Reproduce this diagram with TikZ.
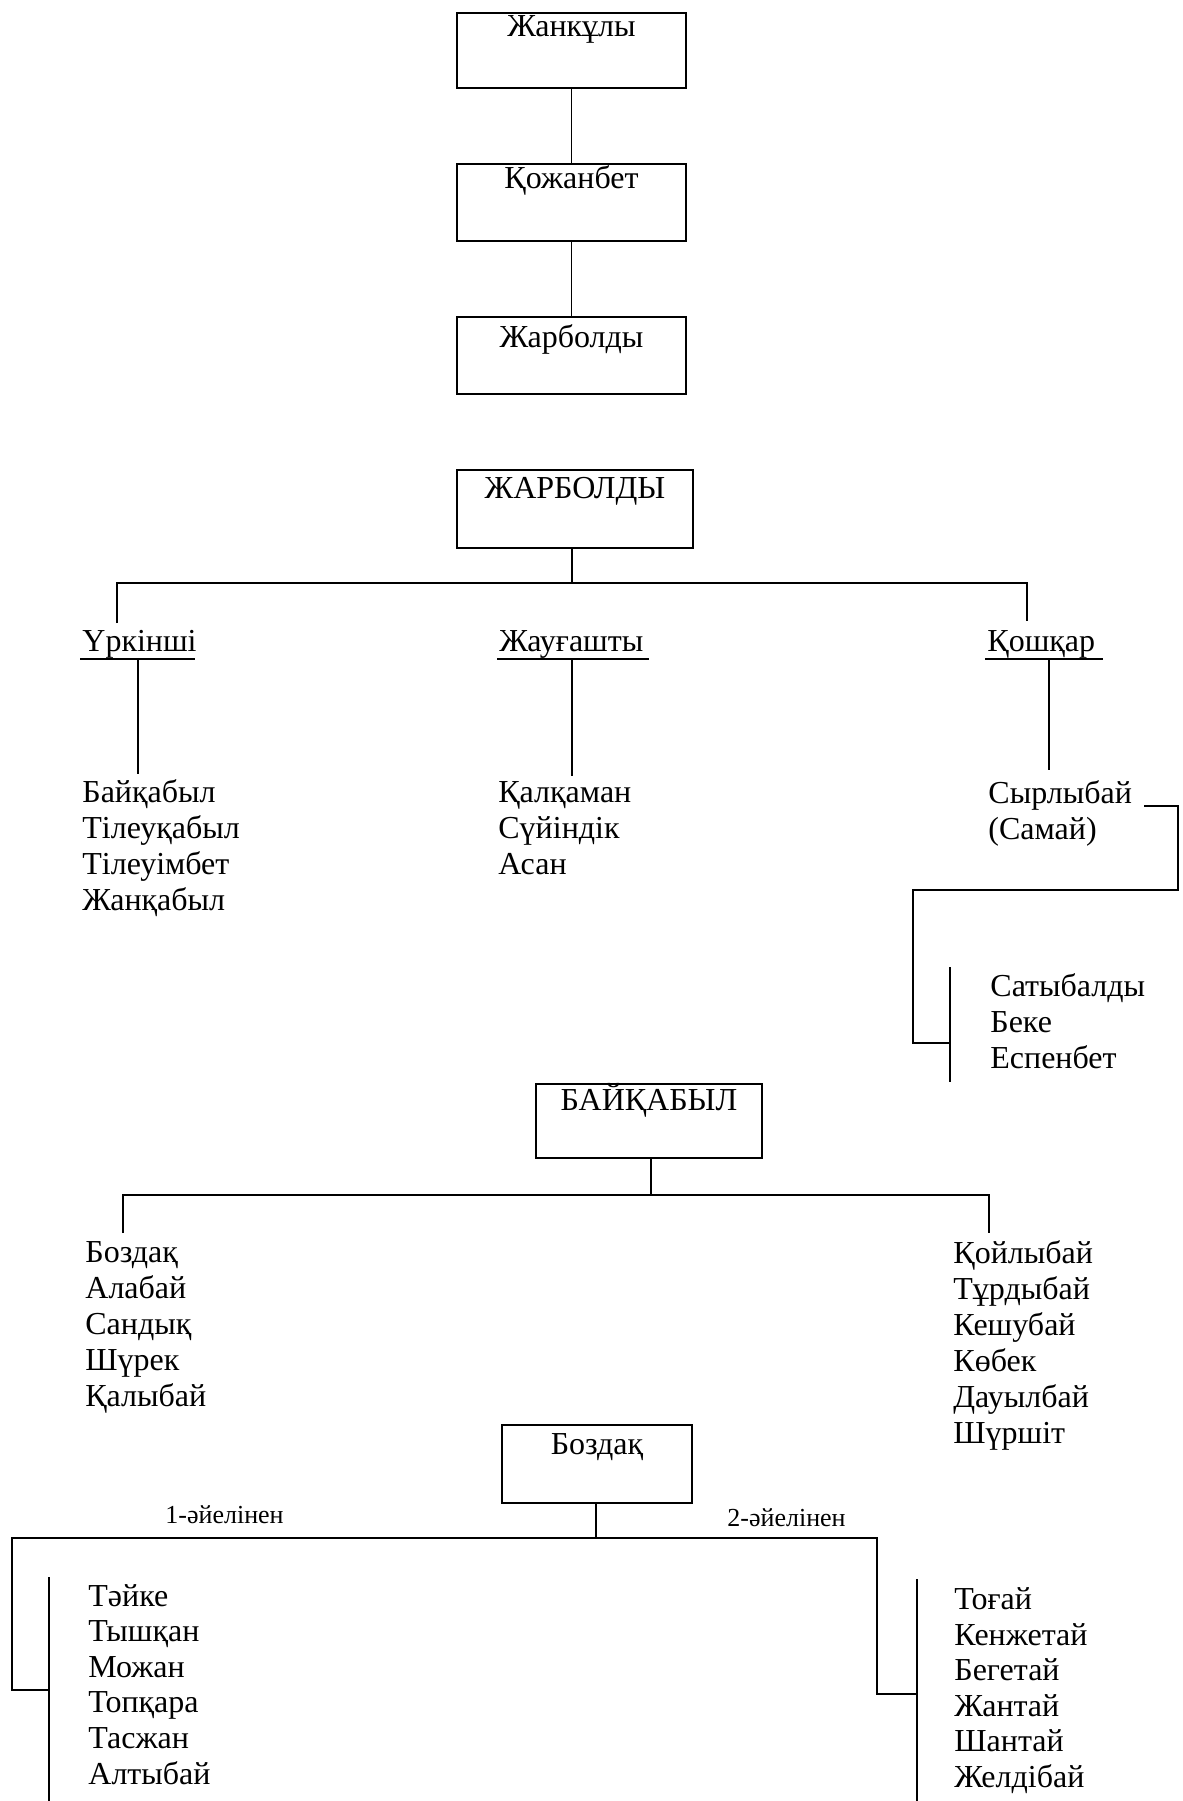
\documentclass[tikz,border=0pt]{standalone}
\usepackage{fontspec}
\setmainfont{Liberation Serif}
\begin{document}
\begin{tikzpicture}[x=0.5pt,y=-0.5pt,
  nm/.style={font=\fontsize{16}{19}\selectfont, inner sep=0pt, anchor=base west},
  lbl/.style={font=\fontsize{13}{15}\selectfont, inner sep=0pt, anchor=base west},
  box/.style={draw, line width=1pt, inner sep=0pt, anchor=north, font=\fontsize{16}{19}\selectfont},
  wire/.style={line width=0.9pt},
  bus/.style={line width=1.3pt}]
\useasboundingbox (0,0) rectangle (1183,1801);

% ---- top chain ----
\node[box, minimum width=114.5pt, minimum height=37.5pt, text height=11.5pt, text depth=26pt] (b1) at (571.5,12) {Жанкұлы};
\node[box, minimum width=114.5pt, minimum height=38.5pt, text height=12pt, text depth=26.5pt] (b2) at (571.5,163) {Қожанбет};
\node[box, minimum width=114.5pt, minimum height=38.5pt, text height=15pt, text depth=23.5pt] (b3) at (571.5,316) {Жарболды};
\draw[wire] (b1) -- (b2);
\draw[wire] (b2) -- (b3);

% ---- ЖАРБОЛДЫ ----
\node[box, minimum width=118pt, minimum height=39pt, text height=14pt, text depth=25pt] (b4) at (575,469) {ЖАРБОЛДЫ};
\coordinate (j1) at (572,583);
\coordinate (busL) at (117,583);
\coordinate (busR) at (1027,583);
\coordinate (dL) at (117,623);
\coordinate (dR) at (1027,621);
\draw[wire] (b4.south -| j1) -- (j1);
\draw[bus] (dL) -- (busL) -- (busR) -- (dR);

\node[nm] (h1) at (82,651) {Үркінші};
\node[nm] (h2) at (499,651) {Жауғашты};
\node[nm] (h3) at (987,651) {Қошқар};
\coordinate (u1a) at (80,659);  \coordinate (u1b) at (195,659);
\coordinate (u2a) at (497,659); \coordinate (u2b) at (649,659);
\coordinate (u3a) at (985,659); \coordinate (u3b) at (1103,659);
\draw[wire] (u1a) -- (u1b);
\draw[wire] (u2a) -- (u2b);
\draw[wire] (u3a) -- (u3b);

\foreach \t [count=\i] in {Байқабыл,Тілеуқабыл,Тілеуімбет,Жанқабыл}
  \node[nm] (la\i) at (82,{802+36*(\i-1)}) {\t};
\foreach \t [count=\i] in {Қалқаман,Сүйіндік,Асан}
  \node[nm] (lb\i) at (498,{802+36*(\i-1)}) {\t};
\node[nm] (lc1) at (988,803) {Сырлыбай};
\node[nm] (lc2) at (988,839) {(Самай)};

\coordinate (v1t) at (138,659);
\coordinate (v2t) at (572,659);
\coordinate (v3t) at (1049,659);
\draw[wire] (v1t) -- ([yshift=2.5pt]v1t |- la1.north);
\draw[wire] (v2t) -- ([yshift=2.5pt]v2t |- lb1.north);
\draw[wire] (v3t) -- ([yshift=5pt]v3t |- lc1.north);

% Сырлыбай -> sons
\coordinate (s0) at (1144,806);
\coordinate (s1) at (1178,806);
\coordinate (s2) at (1178,890);
\coordinate (s3) at (913,890);
\coordinate (s4) at (913,1043);
\coordinate (s5) at (950,1043);
\coordinate (sbT) at (950,967);
\coordinate (sbB) at (950,1082);
\draw[wire] (s0) -- (s1) -- (s2) -- (s3) -- (s4) -- (s5);
\draw[wire] (sbT) -- (sbB);
\foreach \t [count=\i] in {Сатыбалды,Беке,Еспенбет}
  \node[nm] (ld\i) at (990,{996+36*(\i-1)}) {\t};

% ---- БАЙҚАБЫЛ ----
\node[box, minimum width=113pt, minimum height=37pt, text height=13pt, text depth=24pt] (b5) at (649,1083) {БАЙҚАБЫЛ};
\coordinate (j2) at (651,1195);
\coordinate (b2L) at (123,1195);
\coordinate (b2R) at (989,1195);
\coordinate (d2L) at (123,1233);
\coordinate (d2R) at (989,1233);
\draw[wire] (b5.south -| j2) -- (j2);
\draw[bus] (d2L) -- (b2L) -- (b2R) -- (d2R);
\foreach \t [count=\i] in {Боздақ,Алабай,Сандық,Шүрек,Қалыбай}
  \node[nm] (le\i) at (85,{1262+36*(\i-1)}) {\t};
\foreach \t [count=\i] in {Қойлыбай,Тұрдыбай,Кешубай,Көбек,Дауылбай,Шүршіт}
  \node[nm] (lf\i) at (953,{1263+36*(\i-1)}) {\t};

% ---- Боздақ ----
\node[box, minimum width=95pt, minimum height=39pt, text height=14.5pt, text depth=24.5pt] (b6) at (597,1424) {Боздақ};
\coordinate (j3) at (596,1538);
\coordinate (b3L) at (12,1538);
\coordinate (b3R) at (877,1538);
\coordinate (d3L) at (12,1690);
\coordinate (e3L) at (49,1690);
\coordinate (d3R) at (877,1694);
\coordinate (e3R) at (917,1694);
\draw[wire] (b6.south -| j3) -- (j3);
\draw[bus] (e3L) -- (d3L) -- (b3L) -- (b3R) -- (d3R) -- (e3R);
\coordinate (g1T) at (49,1577);  \coordinate (g1B) at (49,1801);
\coordinate (g2T) at (917,1579); \coordinate (g2B) at (917,1801);
\draw[wire] (g1T) -- (g1B);
\draw[wire] (g2T) -- (g2B);
\node[lbl] (w1) at (165,1523) {1-әйелінен};
\node[lbl] (w2) at (727,1526) {2-әйелінен};
\foreach \t [count=\i] in {Тәйке,Тышқан,Можан,Топқара,Тасжан,Алтыбай}
  \node[nm] (lg\i) at (88,{1606+35.6*(\i-1)}) {\t};
\foreach \t [count=\i] in {Тоғай,Кенжетай,Бегетай,Жантай,Шантай,Желдібай}
  \node[nm] (lh\i) at (954,{1609.5+35.6*(\i-1)}) {\t};
\end{tikzpicture}
\end{document}
